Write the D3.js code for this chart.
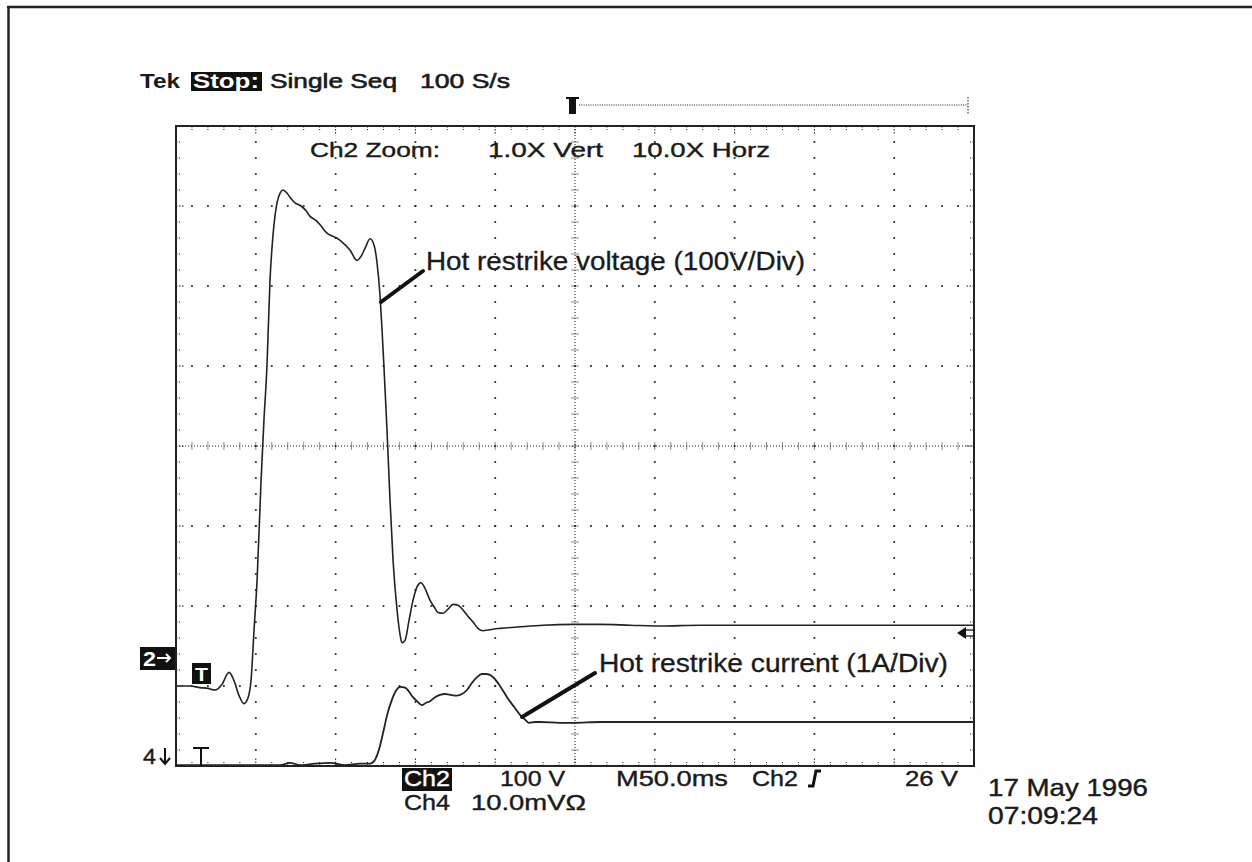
<!DOCTYPE html>
<html><head><meta charset="utf-8">
<script src="https://cdn.jsdelivr.net/npm/d3@7"></script>
<style>
body{margin:0;background:#fff}
svg{display:block}
text{font-family:"Liberation Sans",Arial,sans-serif;fill:#1a1a1a}
</style>
</head><body>
<svg id="c" width="1252" height="862"></svg>
<script>
// ---- data ----
// Channel 2: hot restrike voltage, time in ms (50 ms/div screen), value in volts (100 V/div)
const voltTime=[0,8.8,15.0,20.1,24.4,28.8,33.2,36.3,39.5,42.6,45.1,47.0,48.9,50.8,53.3,55.1,57.0,58.9,60.8,63.3,65.2,67.0,69.6,72.1,74.6,78.3,81.5,84.0,87.7,90.9,94.6,98.4,101.5,104.6,109.0,113.4,115.9,118.4,121.6,124.1,125.9,127.8,129.1,130.3,132.2,134.1,136.0,138.5,140.4,141.6,143.5,146.0,148.5,151.0,153.5,156.0,159.2,161.7,164.2,167.3,170.4,173.6,176.7,179.8,183.0,186.1,189.2,192.4,195.5,198.6,203.0,215.6,230.0,248.8,265.7,284.5,303.3,328.3,500];
const voltValue=[-36,-36,-38,-39,-41,-34,-19,-29,-48,-58,-51,-29,34,96,221,296,364,471,528,568,580,584,580,573,568,564,558,551,546,539,530,526,523,518,509,496,501,511,523,515,494,453,409,363,284,196,121,59,28,18,21,46,71,88,93,86,71,63,56,55,60,66,65,59,51,44,36,33,34,35,36,38,40,41,41,40,39,40,40];
// Channel 4: hot restrike current, value in amperes (1 A/div)
const currTime=[0,65.2,71.4,77.7,87.1,96.5,105.9,115.3,121.6,124.1,125.9,127.8,129.7,132.2,135.3,137.8,140.4,143.5,146.0,148.5,151.0,154.1,156.6,159.2,162.3,165.4,168.5,171.7,176.1,179.2,182.3,185.5,188.6,191.7,194.2,196.7,199.2,203.0,207.4,211.8,215.6,218.7,221.2,225.0,228.1,240.6,249.4,265.7,500];
const currValue=[0.01,0.01,0.04,0.01,0.03,0.04,0.01,0.03,0.03,0.06,0.13,0.25,0.41,0.63,0.83,0.94,0.99,0.98,0.93,0.86,0.81,0.76,0.79,0.81,0.86,0.89,0.90,0.89,0.88,0.90,0.95,1.04,1.11,1.15,1.15,1.14,1.10,1.00,0.86,0.74,0.64,0.58,0.54,0.55,0.55,0.54,0.54,0.55,0.55];
const ch2VoltsPerDiv=100, ch2OffsetDiv=-2.64;
const ch4AmpsPerDiv=1, ch4OffsetDiv=-4;
const headerLabels=["Tek","Stop:","Single Seq","100 S/s"];
const zoomLabels=["Ch2 Zoom:","1.0X Vert","10.0X Horz"];
const readoutLabels=["Ch2","100 V","M50.0ms","Ch2","26 V","Ch4","10.0mVΩ"];
const dateLabels=["17 May 1996","07:09:24"];
const annotations=["Hot restrike voltage (100V/Div)","Hot restrike current (1A/Div)"];

// ---- drawing ----
const svg=d3.select('#c');
const ink='#1a1a1a';
const x=d3.scaleLinear().domain([0,500]).range([176,974]);
const y=d3.scaleLinear().domain([-4,4]).range([766,126]);

// outer frame
svg.append('line').attr('x1',8.5).attr('x2',8.5).attr('y1',6).attr('y2',862).attr('stroke','#222').attr('stroke-width',2.5);
svg.append('line').attr('x1',7).attr('x2',1252).attr('y1',7).attr('y2',7).attr('stroke','#222').attr('stroke-width',2.5);

const g=svg.append('g');
const minorT=d3.range(0,500.01,10);
const minorV=d3.range(-4,4.001,0.2).map(v=>+v.toFixed(2));
const majorT=d3.range(50,451,50).filter(t=>t!==250);
const majorV=[-3,-2,-1,1,2,3];

// grid dots
const dots=[];
majorT.forEach(t=>minorV.forEach(v=>{ if(v>-4&&v<4) dots.push([x(t),y(v)]);}));
majorV.forEach(v=>minorT.forEach(t=>{ if(t>0&&t<500) dots.push([x(t),y(v)]);}));
g.selectAll('rect.dot').data(dots).join('rect').attr('class','dot')
 .attr('x',d=>d[0]-0.9).attr('y',d=>d[1]-0.9).attr('width',1.8).attr('height',1.8).attr('fill','#2a2a2a');

// center crosshair
g.append('line').attr('x1',x(250)).attr('x2',x(250)).attr('y1',y(4)).attr('y2',y(-4))
 .attr('stroke',ink).attr('stroke-width',1).attr('stroke-dasharray','1,2');
g.append('line').attr('x1',x(0)).attr('x2',x(500)).attr('y1',y(0)).attr('y2',y(0))
 .attr('stroke',ink).attr('stroke-width',1).attr('stroke-dasharray','1,2');
g.selectAll('line.cvt').data(minorV.filter(v=>v>-4&&v<4)).join('line').attr('class','cvt')
 .attr('x1',x(250)-3.5).attr('x2',x(250)+3.5).attr('y1',d=>y(d)).attr('y2',d=>y(d))
 .attr('stroke',ink).attr('stroke-width',1).attr('stroke-dasharray','1,1');
g.selectAll('line.cht').data(minorT.filter(t=>t>0&&t<500)).join('line').attr('class','cht')
 .attr('y1',y(0)-3.5).attr('y2',y(0)+3.5).attr('x1',d=>x(d)).attr('x2',d=>x(d))
 .attr('stroke',ink).attr('stroke-width',1).attr('stroke-dasharray','1,1');

// edge ticks
const isMajT=t=>Math.abs(t%50)<0.01, isMajV=v=>Math.abs(Math.round(v)-v)<0.01;
minorT.filter(t=>t>0&&t<500).forEach(t=>{
  const L=isMajT(t)?9:4;
  g.append('line').attr('x1',x(t)).attr('x2',x(t)).attr('y1',y(4)).attr('y2',y(4)+L).attr('stroke',ink).attr('stroke-dasharray','1.5,1.5');
  g.append('line').attr('x1',x(t)).attr('x2',x(t)).attr('y1',y(-4)).attr('y2',y(-4)-L).attr('stroke',ink).attr('stroke-dasharray','1.5,1.5');
});
minorV.filter(v=>v>-4&&v<4).forEach(v=>{
  const L=isMajV(v)?9:4;
  g.append('line').attr('y1',y(v)).attr('y2',y(v)).attr('x1',x(0)).attr('x2',x(0)+L).attr('stroke',ink).attr('stroke-dasharray','1.5,1.5');
  g.append('line').attr('y1',y(v)).attr('y2',y(v)).attr('x1',x(500)).attr('x2',x(500)-L).attr('stroke',ink).attr('stroke-dasharray','1.5,1.5');
});
g.append('rect').attr('x',x(0)).attr('y',y(4)).attr('width',x(500)-x(0)).attr('height',y(-4)-y(4))
 .attr('fill','none').attr('stroke','#222').attr('stroke-width',2);

// traces
const vData=voltTime.map((t,i)=>[t,ch2OffsetDiv+voltValue[i]/ch2VoltsPerDiv]);
const cData=currTime.map((t,i)=>[t,ch4OffsetDiv+currValue[i]/ch4AmpsPerDiv]);
const line=d3.line().x(d=>x(d[0])).y(d=>y(d[1])).curve(d3.curveMonotoneX);
svg.append('path').attr('d',line(vData)).attr('fill','none').attr('stroke','#222').attr('stroke-width',1.6);
svg.append('path').attr('d',line(cData)).attr('fill','none').attr('stroke','#222').attr('stroke-width',1.8);

// text helper
function txt(s,xx,yy,size,len,opt={}){
  const t=svg.append('text').attr('x',xx).attr('y',yy).attr('font-size',size).text(s);
  if(len) t.attr('textLength',len).attr('lengthAdjust','spacingAndGlyphs');
  if(opt.bold) t.attr('font-weight','bold');
  const f=opt.fill||'#1a1a1a';
  t.style('fill',f);
  if(opt.sw) t.style('stroke',f).style('stroke-width',opt.sw);
  return t;
}

// header
txt(headerLabels[0],140,88,21,40,{bold:true});
svg.append('rect').attr('x',191).attr('y',72).attr('width',71).attr('height',19).attr('fill','#111');
txt(headerLabels[1],193,88,21,66,{bold:true,fill:'#fff'});
txt(headerLabels[2],270,88,21,127,{sw:0.6});
txt(headerLabels[3],420,88,21,90,{sw:0.6});

// trigger position marker
svg.append('rect').attr('x',569).attr('y',97).attr('width',7).attr('height',17).attr('fill','#111');
svg.append('line').attr('x1',566).attr('x2',579).attr('y1',98).attr('y2',98).attr('stroke','#111').attr('stroke-width',2);
svg.append('line').attr('x1',579).attr('x2',968).attr('y1',105).attr('y2',105).attr('stroke',ink).attr('stroke-dasharray','1,1.3');
svg.append('line').attr('x1',968).attr('x2',968).attr('y1',97).attr('y2',115).attr('stroke',ink).attr('stroke-dasharray','1.5,1.5');

// zoom readout
txt(zoomLabels[0],310,157,21,130,{sw:0.4});
txt(zoomLabels[1],488,157,21,115,{sw:0.4});
txt(zoomLabels[2],632,157,21,138,{sw:0.4});

// annotations
svg.append('line').attr('x1',381).attr('y1',302).attr('x2',423).attr('y2',271).attr('stroke','#111').attr('stroke-width',4).attr('stroke-linecap','round');
txt(annotations[0],426,270,25,379,{sw:0.3});
svg.append('line').attr('x1',522).attr('y1',717).attr('x2',595).attr('y2',673).attr('stroke','#111').attr('stroke-width',4).attr('stroke-linecap','round');
txt(annotations[1],599,672,25,349,{sw:0.3});

// left channel markers
svg.append('rect').attr('x',140).attr('y',647).attr('width',35).attr('height',23).attr('fill','#111');
txt('2',143,666,21,13,{bold:true,fill:'#fff'});
svg.append('path').attr('d','M157,658 L170,658 M166,654 L170,658 L166,662').attr('fill','none').attr('stroke','#fff').attr('stroke-width',2);
svg.append('rect').attr('x',192).attr('y',663).attr('width',19).attr('height',21).attr('fill','#111');
txt('T',195,681,18,13,{bold:true,fill:'#fff'});
txt('4',143,764,22,13,{sw:0.4});
svg.append('path').attr('d','M165,748 L165,764 M160,758 L165,764 L170,758').attr('fill','none').attr('stroke','#111').attr('stroke-width',2);
svg.append('line').attr('x1',193).attr('x2',209).attr('y1',748).attr('y2',748).attr('stroke','#111').attr('stroke-width',2);
svg.append('line').attr('x1',201).attr('x2',201).attr('y1',748).attr('y2',766).attr('stroke','#111').attr('stroke-width',2);

// right ground marker
svg.append('path').attr('d','M957,633 L966,627 L966,639 Z').attr('fill','#111');
svg.append('line').attr('x1',966).attr('x2',975).attr('y1',630).attr('y2',630).attr('stroke','#111').attr('stroke-width',1.3);
svg.append('line').attr('x1',966).attr('x2',975).attr('y1',636).attr('y2',636).attr('stroke','#111').attr('stroke-width',1.3);

// bottom readouts
svg.append('rect').attr('x',402).attr('y',768).attr('width',50).attr('height',23).attr('fill','#111');
txt(readoutLabels[0],404,786,22,46,{fill:'#fff',sw:0.4});
txt(readoutLabels[1],500,786,22,65,{sw:0.4});
txt(readoutLabels[2],616,786,22,112,{sw:0.4});
txt(readoutLabels[3],752,786,22,46,{sw:0.4});
svg.append('path').attr('d','M808,786 L813,786 L816,771 L821,771').attr('fill','none').attr('stroke','#111').attr('stroke-width',3);
txt(readoutLabels[4],905,786,22,53,{sw:0.4});
txt(readoutLabels[5],404,810,22,46,{sw:0.4});
txt(readoutLabels[6],471,810,22,115,{sw:0.4});

// date/time
txt(dateLabels[0],988,796,23,160,{sw:0.4});
txt(dateLabels[1],988,824,23,110,{sw:0.4});
</script>
</body></html>
